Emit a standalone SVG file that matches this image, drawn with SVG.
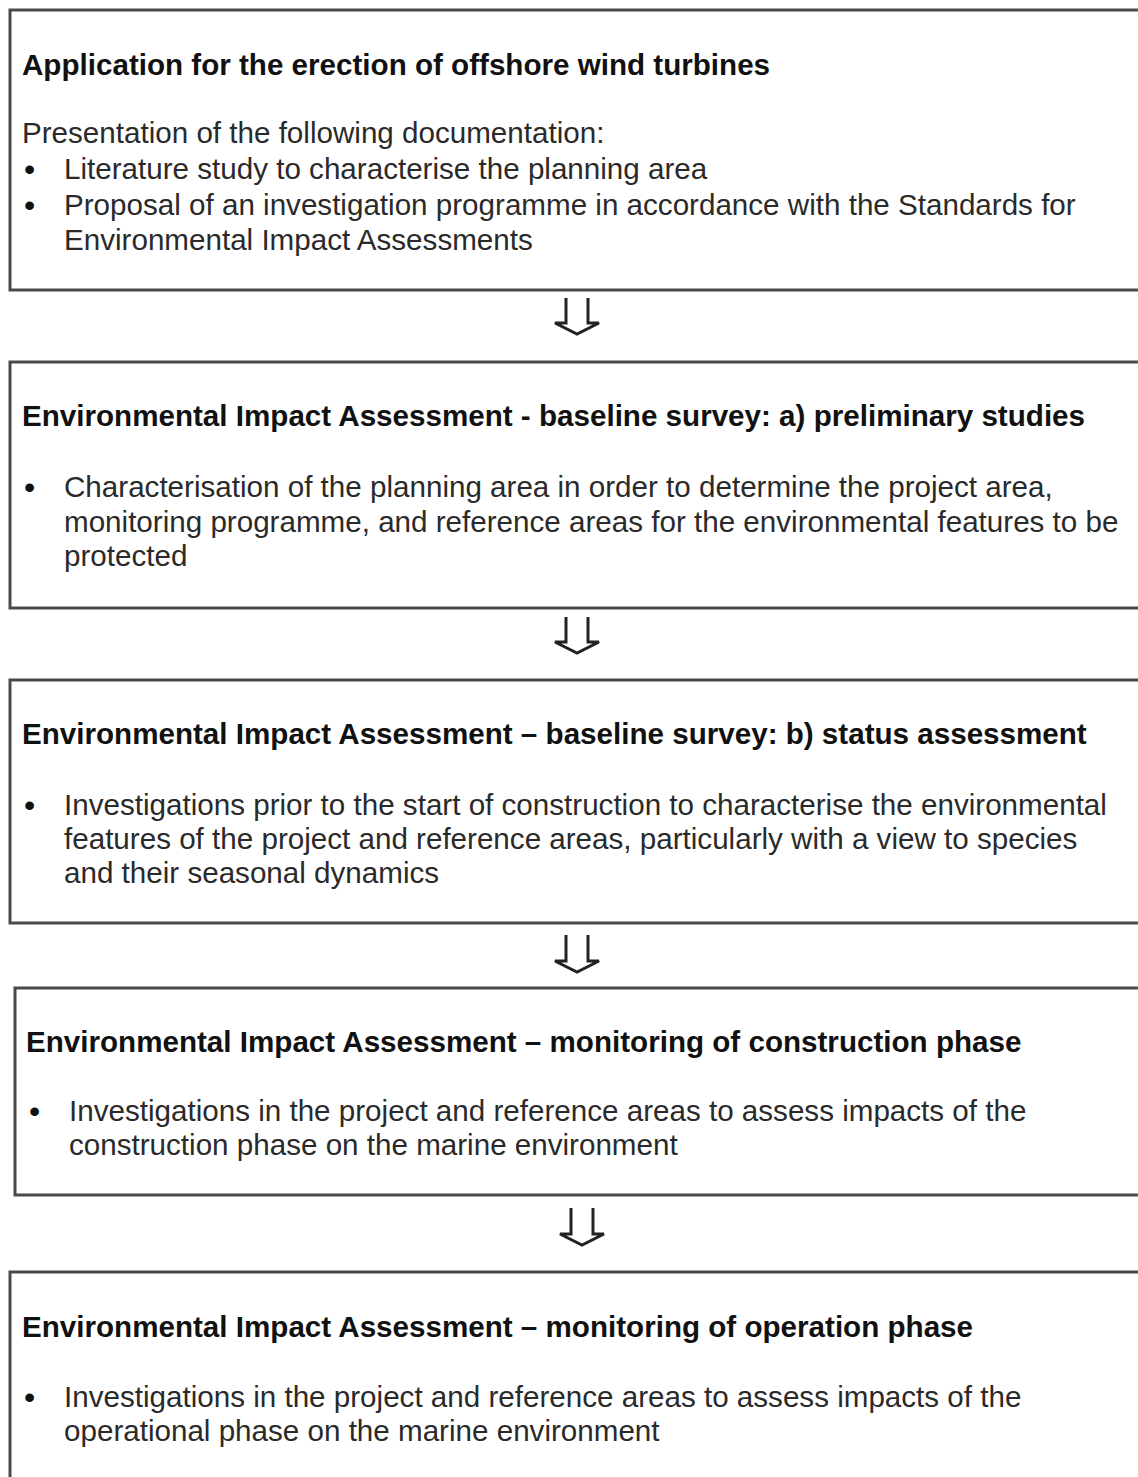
<svg xmlns="http://www.w3.org/2000/svg" width="1138" height="1477" viewBox="0 0 1138 1477">
<style>
.box{fill:#fff;stroke:#4a4a4a;stroke-width:3}
.h{font-family:"Liberation Sans",Arial,sans-serif;font-weight:bold;font-size:29.6px;fill:#111}
.t{font-family:"Liberation Sans",Arial,sans-serif;font-size:29.6px;fill:#2a2a2a}
.b{font-family:"Liberation Sans",Arial,sans-serif;font-size:32px;fill:#111}
.arr{fill:none;stroke:#222;stroke-width:3;stroke-linejoin:miter}
</style>
<rect width="1138" height="1477" fill="#fff"/>
<g id="node1">
<rect class="box" x="10" y="10" width="1140" height="280"/>
<text class="h" x="22" y="75">Application for the erection of offshore wind turbines</text>
<text class="t" x="22" y="143">Presentation of the following documentation:</text>
<text class="b" x="24" y="180">•</text>
<text class="t" x="64" y="179">Literature study to characterise the planning area</text>
<text class="b" x="24" y="216">•</text>
<text class="t" x="64" y="215">Proposal of an investigation programme in accordance with the Standards for</text>
<text class="t" x="64" y="250">Environmental Impact Assessments</text>
</g>
<g id="node2">
<rect class="box" x="10" y="362" width="1140" height="246"/>
<text class="h" x="22" y="426">Environmental Impact Assessment - baseline survey: a) preliminary studies</text>
<text class="b" x="24" y="498">•</text>
<text class="t" x="64" y="497">Characterisation of the planning area in order to determine the project area,</text>
<text class="t" x="64" y="532">monitoring programme, and reference areas for the environmental features to be</text>
<text class="t" x="64" y="566">protected</text>
</g>
<g id="node3">
<rect class="box" x="10" y="680" width="1140" height="243"/>
<text class="h" x="22" y="744">Environmental Impact Assessment – baseline survey: b) status assessment</text>
<text class="b" x="24" y="816">•</text>
<text class="t" x="64" y="815">Investigations prior to the start of construction to characterise the environmental</text>
<text class="t" x="64" y="849">features of the project and reference areas, particularly with a view to species</text>
<text class="t" x="64" y="883">and their seasonal dynamics</text>
</g>
<g id="node4">
<rect class="box" x="15" y="988" width="1140" height="207"/>
<text class="h" x="26" y="1052">Environmental Impact Assessment – monitoring of construction phase</text>
<text class="b" x="29" y="1122">•</text>
<text class="t" x="69" y="1121">Investigations in the project and reference areas to assess impacts of the</text>
<text class="t" x="69" y="1155">construction phase on the marine environment</text>
</g>
<g id="node5">
<rect class="box" x="10" y="1272" width="1140" height="220"/>
<text class="h" x="22" y="1337">Environmental Impact Assessment – monitoring of operation phase</text>
<text class="b" x="24" y="1408">•</text>
<text class="t" x="64" y="1407">Investigations in the project and reference areas to assess impacts of the</text>
<text class="t" x="64" y="1441">operational phase on the marine environment</text>
</g>
<g id="connectors">
<path class="arr" d="M566,298 V323 H555 L577,334 L599,323 H588 V298"/>
<path class="arr" d="M566,617 V642 H555 L577,653 L599,642 H588 V617"/>
<path class="arr" d="M566,935 V961 H555 L577,972 L599,961 H588 V935"/>
<path class="arr" d="M571,1208 V1234 H560 L582,1245 L604,1234 H593 V1208"/>
</g>
</svg>
